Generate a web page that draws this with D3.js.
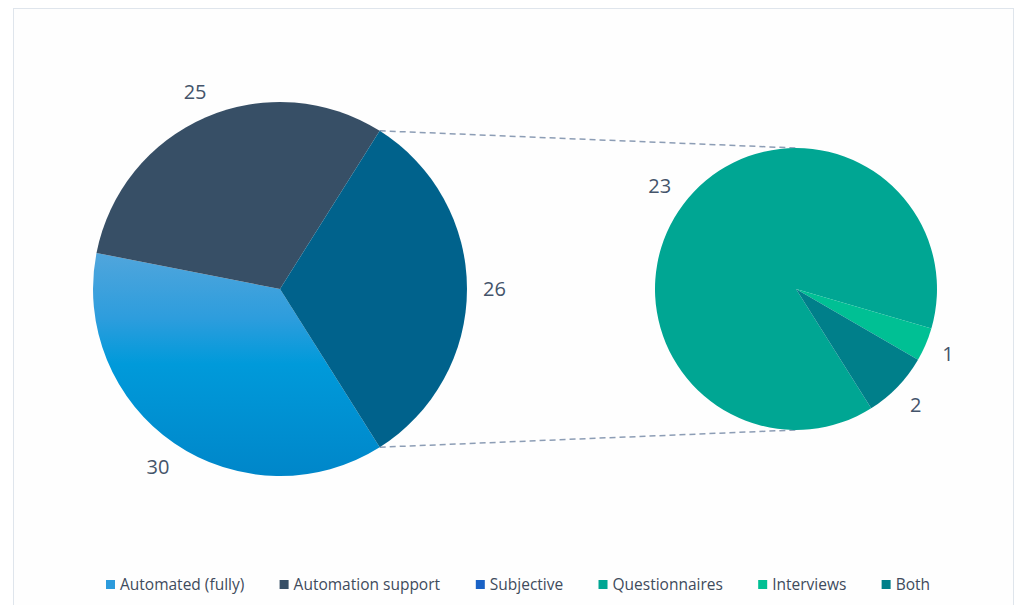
<!DOCTYPE html>
<html>
<head>
<meta charset="utf-8">
<script src="https://cdn.jsdelivr.net/npm/d3@7"></script>
<style>
  html, body { margin: 0; padding: 0; background: #fff; }
  svg { display: block; }
</style>
</head>
<body>
<div id="chart"></div>
<script>
// data
const mainNames = ["Automated (fully)", "Automation support", "Subjective"];
const mainValues = [30, 25, 26];
const subNames = ["Questionnaires", "Interviews", "Both"];
const subValues = [23, 1, 2];
const legendNames = ["Automated (fully)", "Automation support", "Subjective", "Questionnaires", "Interviews", "Both"];

const width = 1016, height = 605;
const svg = d3.select('#chart').append('svg')
    .attr('width', width)
    .attr('height', height);

// frame
svg.append('rect')
    .attr('x', 13.5).attr('y', 8.5)
    .attr('width', 1000).attr('height', 610)
    .attr('fill', '#fefefe')
    .attr('stroke', '#dfe5ec');

const c1 = {x: 280, y: 289, r: 187};
const c2 = {x: 796, y: 289, r: 141};

// vertical gradient on the light blue slice (coords local to the pie group)
const defs = svg.append('defs');
const grad = defs.append('linearGradient')
    .attr('id', 'autoGrad')
    .attr('gradientUnits', 'userSpaceOnUse')
    .attr('x1', 0).attr('x2', 0)
    .attr('y1', 250 - c1.y).attr('y2', 478 - c1.y);
grad.append('stop').attr('offset', '0%').attr('stop-color', '#52a6dc');
grad.append('stop').attr('offset', '30%').attr('stop-color', '#2d9ddd');
grad.append('stop').attr('offset', '50%').attr('stop-color', '#009ada');
grad.append('stop').attr('offset', '100%').attr('stop-color', '#0086c9');

const mainColors = ['url(#autoGrad)', '#374f66', '#00628c'];
const subColors = ['#00a693', '#00c094', '#007f8a'];
const legendColors = ['#2c9bdc', '#374f66', '#1a62c6', '#00a693', '#00c094', '#007f8a'];
const textColor = '#44546a';

// Excel centres the "other" slice on the right side
const otherFrac = mainValues[2] / d3.sum(mainValues);
const start = Math.PI / 2 + otherFrac * Math.PI;

const pie = d3.pie().sort(null).startAngle(start).endAngle(start + 2 * Math.PI);
const mainArcs = pie(mainValues);
const subArcs = pie(subValues);

const arc1 = d3.arc().innerRadius(0).outerRadius(c1.r);
const arc2 = d3.arc().innerRadius(0).outerRadius(c2.r);

// connector lines
const other = mainArcs[2];
const pt = (c, a) => [c.x + c.r * Math.sin(a), c.y - c.r * Math.cos(a)];
const lines = [
  [pt(c1, other.startAngle), [c2.x, c2.y - c2.r]],
  [pt(c1, other.endAngle), [c2.x, c2.y + c2.r]]
];
svg.selectAll('line.conn')
  .data(lines)
  .enter().append('line')
    .attr('class', 'conn')
    .attr('x1', d => d[0][0]).attr('y1', d => d[0][1])
    .attr('x2', d => d[1][0]).attr('y2', d => d[1][1])
    .attr('stroke', '#8c9db5')
    .attr('stroke-width', 1.5)
    .attr('stroke-dasharray', '6,4');

const g1 = svg.append('g').attr('transform', `translate(${c1.x},${c1.y})`);
g1.selectAll('path')
  .data(mainArcs)
  .enter().append('path')
    .attr('d', arc1)
    .attr('fill', (d, i) => mainColors[i]);

const g2 = svg.append('g').attr('transform', `translate(${c2.x},${c2.y})`);
g2.selectAll('path')
  .data(subArcs)
  .enter().append('path')
    .attr('d', arc2)
    .attr('fill', (d, i) => subColors[i]);

// data labels outside each slice
function addLabels(arcs, c) {
  svg.append('g').selectAll('text')
    .data(arcs)
    .enter().append('text')
      .attr('font-family', '"Open Sans", sans-serif')
      .attr('font-size', 20)
      .attr('fill', textColor)
      .attr('text-anchor', 'middle')
      .attr('dy', '0.36em')
      .text(d => d.data)
      .each(function(d) {
        const a = (d.startAngle + d.endAngle) / 2;
        const w = this.getComputedTextLength();
        const h = 15;
        const half = w / 2 * Math.abs(Math.sin(a)) + h / 2 * Math.abs(Math.cos(a));
        const rr = c.r + 16 + half;
        d3.select(this)
          .attr('x', c.x + rr * Math.sin(a))
          .attr('y', c.y - rr * Math.cos(a));
      });
}
addLabels(mainArcs, c1);
addLabels(subArcs, c2);

// legend, spread between x=106 and x=930 like the original
const legend = svg.append('g').attr('transform', 'translate(0,590)');
const items = legend.selectAll('g')
  .data(legendNames)
  .enter().append('g');
items.append('rect')
  .attr('width', 9).attr('height', 9)
  .attr('y', -10)
  .attr('fill', (d, i) => legendColors[i]);
items.append('text')
  .attr('x', 14)
  .attr('font-family', '"Open Sans", sans-serif')
  .attr('font-size', 15.5)
  .attr('fill', '#3f4b5c')
  .text(d => d);

const widths = [];
items.each(function() { widths.push(this.getBBox().width); });
const gap = (930 - 106 - d3.sum(widths)) / (widths.length - 1);
let xPos = 106;
items.each(function(d, i) {
  d3.select(this).attr('transform', `translate(${xPos},0)`);
  xPos += widths[i] + gap;
});
</script>
</body>
</html>
